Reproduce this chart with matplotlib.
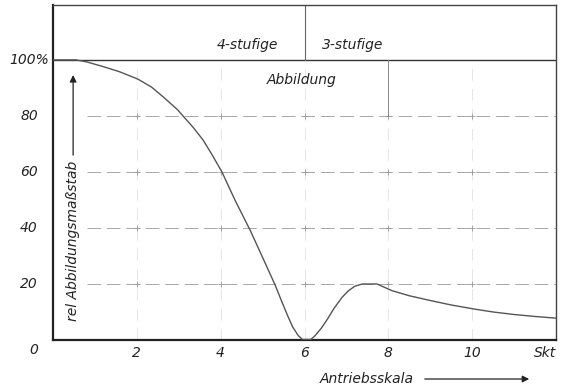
import matplotlib
matplotlib.use('Agg')
import matplotlib.pyplot as plt
import numpy as np

# Antriebsskala (Skt) und rel. Abbildungsmassstab (%)
skala = [0.0, 0.55, 0.8, 1.2, 1.6, 2.03, 2.35, 2.62, 2.98, 3.1, 3.35, 3.58,
         3.8, 4.03, 4.34, 4.7, 5.0, 5.3, 5.45, 5.6, 5.72, 5.85, 5.95, 6.15,
         6.25, 6.4, 6.55, 6.7, 6.9, 7.05, 7.2, 7.38, 7.73, 8.09, 8.5, 9.0,
         9.5, 10.07, 10.5, 11.0, 11.5, 12.0]
massstab = [100.0, 100.0, 99.3, 97.6, 95.7, 93.1, 90.3, 86.9, 82.1, 80.0,
            75.8, 71.4, 66.0, 60.0, 50.0, 39.3, 29.5, 19.6, 14.0, 8.6,
            4.6, 1.6, 0.2, 0.2, 1.5, 4.2, 7.5, 11.2, 15.3, 17.6, 19.2, 20.0,
            20.0, 17.6, 15.8, 14.1, 12.5, 11.0, 10.0, 9.1, 8.4, 7.8]

xticks = [2, 4, 6, 8, 10, 12]
xlabels = ['2', '4', '6', '8', '10', 'Skt']
yticks = [20, 40, 60, 80, 100]
ylabels = ['20', '40', '60', '80', '100%']

ink = '#222222'
plt.rcParams['font.family'] = 'DejaVu Sans'
plt.rcParams['font.style'] = 'italic'

fig = plt.figure(figsize=(5.66, 3.9), dpi=100)
ax = fig.add_axes([53/566, 50/390, 503/566, 335/390])
ax.set_xlim(0, 12)
ax.set_ylim(0, 119.6)

# gitter
for yv in yticks[:-1]:
    ax.plot([0.8, 12], [yv, yv], color='#a8a8a8', lw=0.7, ls=(0, (14, 6)), zorder=1)
for xv in xticks[:-1]:
    ax.plot([xv, xv], [0, 100], color='#e2e2e2', lw=0.6, ls=(0, (14, 10)), zorder=1)
gx, gy = np.meshgrid(xticks[:-1], yticks[:-1])
ax.plot(gx.ravel(), gy.ravel(), '+', color='#999999', ms=4, mew=0.6, zorder=1)

# 100%-linie und kopffelder
ax.plot([0, 12], [100, 100], color='#333333', lw=1.0, zorder=2)
ax.plot([6, 6], [100, 119.6], color='#666666', lw=0.8, zorder=2)
ax.plot([8, 8], [80, 100], color='#888888', lw=0.7, zorder=2)
ax.text(4.65, 105.4, '4-stufige', ha='center', va='center', fontsize=10, color=ink)
ax.text(7.16, 105.4, '3-stufige', ha='center', va='center', fontsize=10, color=ink)
ax.text(5.94, 92.9, 'Abbildung', ha='center', va='center', fontsize=10, color=ink)

# kurve
ax.plot(skala, massstab, color='#555555', lw=1.0, zorder=3)

# achsen
for side in ['left', 'bottom']:
    ax.spines[side].set_linewidth(1.6)
    ax.spines[side].set_color(ink)
for side in ['top', 'right']:
    ax.spines[side].set_linewidth(1.0)
    ax.spines[side].set_color('#444444')

ax.set_xticks(xticks)
ax.set_xticklabels(xlabels, fontsize=10, color=ink)
ax.get_xticklabels()[-1].set_ha('right')
ax.tick_params(axis='x', length=0, pad=4)
ax.set_yticks([])

for yv, lab in zip(yticks, ylabels):
    if lab.endswith('%'):
        ax.annotate(lab, xy=(0, yv), xycoords=('axes fraction', 'data'),
                    xytext=(-44 * 0.72, 0), textcoords='offset points',
                    ha='left', va='center', fontsize=10, color=ink)
    else:
        ax.annotate(lab, xy=(0, yv), xycoords=('axes fraction', 'data'),
                    xytext=(-15 * 0.72, 0), textcoords='offset points',
                    ha='right', va='center', fontsize=10, color=ink)
ax.annotate('0', xy=(0, 0), xycoords=('axes fraction', 'data'),
            xytext=(-15 * 0.72, -10 * 0.72), textcoords='offset points',
            ha='right', va='center', fontsize=10, color=ink)

# achsbeschriftungen mit pfeilen
ax.text(0.48, 35.4, 'rel Abbildungsmaßstab', rotation=90, ha='center', va='center',
        fontsize=10, color=ink)
ax.annotate('', xy=(0.48, 94.6), xytext=(0.48, 66),
            arrowprops=dict(arrowstyle='-|>', color=ink, lw=0.9,
                            mutation_scale=10, shrinkA=0, shrinkB=0))
fig.text(320/566, 11/390, 'Antriebsskala', ha='left', va='center', fontsize=10, color=ink)
fig.add_artist(matplotlib.patches.FancyArrowPatch(
    (422/566, 11/390), (532/566, 11/390), transform=fig.transFigure,
    arrowstyle='-|>', color=ink, lw=0.9, mutation_scale=10))

fig.savefig('out.png', dpi=100)
